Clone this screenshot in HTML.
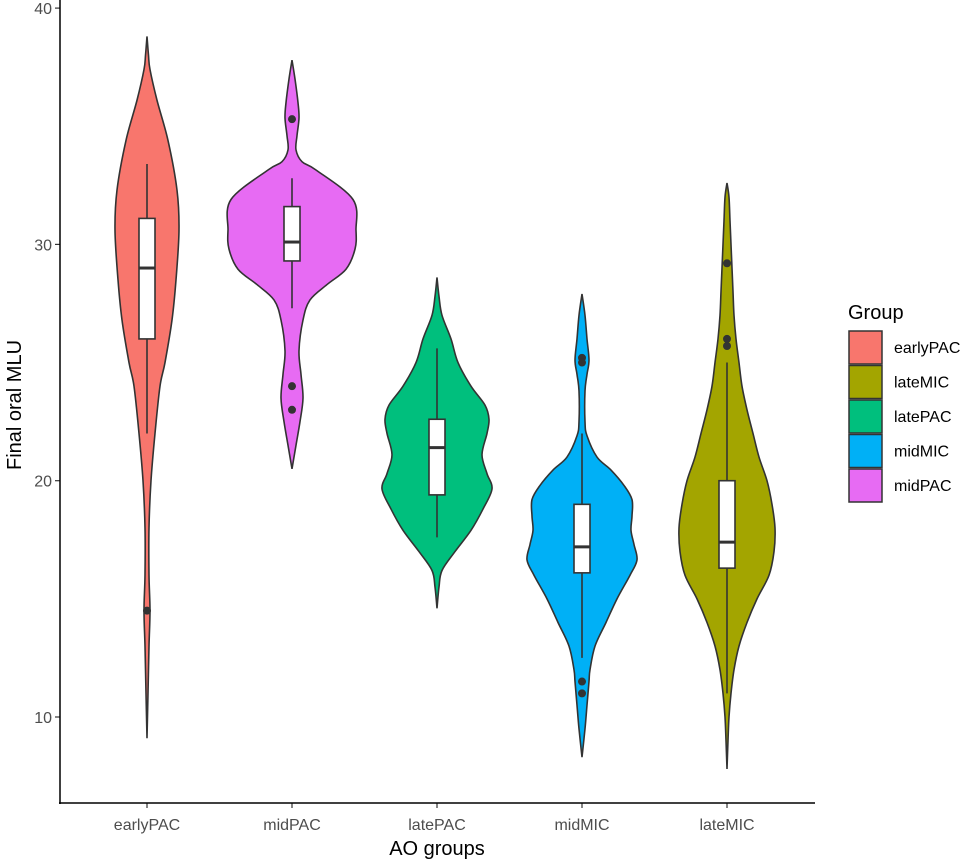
<!DOCTYPE html>
<html><head><meta charset="utf-8"><style>
body{margin:0;background:#fff;}
svg{display:block;font-family:"Liberation Sans",Arial,sans-serif;}
</style></head><body>
<svg id="chart" width="971" height="861">
<g id="plot"></g>
<g id="axes"></g>
<g id="legend"></g>
</svg>
<script>
const categories=["earlyPAC","midPAC","latePAC","midMIC","lateMIC"];
const colors=["#F8766D","#E76BF3","#00BF7D","#00B0F6","#A3A500"];
const legendGroups=["earlyPAC","lateMIC","latePAC","midMIC","midPAC"];
const legendColors=["#F8766D","#A3A500","#00BF7D","#00B0F6","#E76BF3"];
const yTicks=[10,20,30,40];
// density profiles: [value, halfwidth-in-px]
const densEarlyPAC=[[38.8,0],[38,1.5],[37.4,3],[36.1,10],[34.4,21],[32.3,30],[30.6,32],[28.5,29],[26.8,25],[25,18],[24,13],[22,8],[20,4],[18,2],[16,2],[14.5,3],[13,2],[11,1],[9.1,0]];
const densMidPAC=[[37.8,0],[37,3],[36,6],[35.35,7],[34.6,5],[34,4],[33.5,10],[33.15,24],[31.9,61],[30.6,64],[29.8,63],[28.95,54],[28.3,35],[27.65,18],[26.8,11],[25.5,7],[24.5,9],[23.5,11],[22.5,8],[21.5,4],[20.5,0]];
const densLatePAC=[[28.6,0],[27.8,2],[27,5],[26,14],[25,21],[24,34],[23.2,48],[22.6,52],[22,50],[21.1,45],[20.3,50],[19.65,55],[18.8,46],[17.9,34],[17,18],[16.2,5],[15.5,2],[14.6,0]];
const densMidMIC=[[27.9,0],[27,3],[26,5],[25.1,7],[24.5,5],[23.8,3],[22.5,3],[21.9,5],[21,15],[20.45,29],[19.8,42],[19.2,50],[18.5,50],[17.9,49],[17.3,52],[16.65,55],[16,48],[15,35],[14,24],[13,13],[12,8],[11.5,7],[10.5,5],[9.5,3],[8.3,0]];
const densLateMIC=[[32.6,0],[32,2],[31,3],[30,4],[29,5],[28,6],[27,7],[26,9],[25,12],[24,15],[23,20],[22,26],[21,32],[20,40],[19,45],[18,48],[17,47],[16,42],[15,30],[14,20],[13,12],[12,7],[11,4],[10,2],[9,1],[7.8,0]];
const densities=[densEarlyPAC,densMidPAC,densLatePAC,densMidMIC,densLateMIC];
// box stats: [lowWhisker,q1,median,q3,highWhisker]
const boxEarlyPAC=[22,26,29,31.1,33.4];
const boxMidPAC=[27.3,29.3,30.1,31.6,32.8];
const boxLatePAC=[17.6,19.4,21.4,22.6,25.6];
const boxMidMIC=[12.5,16.1,17.2,19.0,22];
const boxLateMIC=[11,16.3,17.4,20.0,25];
const boxes=[boxEarlyPAC,boxMidPAC,boxLatePAC,boxMidMIC,boxLateMIC];
const outEarlyPAC=[14.5];
const outMidPAC=[35.3,24.0,23.0];
const outLatePAC=[];
const outMidMIC=[25.2,25.0,11.5,11.0];
const outLateMIC=[29.2,26.0,25.7];
const outliers=[outEarlyPAC,outMidPAC,outLatePAC,outMidMIC,outLateMIC];

const NS="http://www.w3.org/2000/svg";
function y(v){return 717-(v-10)*23.63;}
function x(i){return 147+i*145;}
function mk(t,a,p){const e=document.createElementNS(NS,t);for(const k in a)e.setAttribute(k,a[k]);p.appendChild(e);return e;}
function smooth(pts){let d="M"+pts[0][0]+","+pts[0][1];for(let i=0;i<pts.length-1;i++){const p0=pts[i-1]||pts[i],p1=pts[i],p2=pts[i+1],p3=pts[i+2]||p2;const c1=[p1[0]+(p2[0]-p0[0])/6,p1[1]+(p2[1]-p0[1])/6],c2=[p2[0]-(p3[0]-p1[0])/6,p2[1]-(p3[1]-p1[1])/6];d+=" C"+c1+" "+c2+" "+p2;}return d;}
const plot=document.getElementById("plot"),axes=document.getElementById("axes"),leg=document.getElementById("legend");
categories.forEach((c,i)=>{
  const cx=x(i),dn=densities[i];
  const right=dn.map(p=>[cx+p[1],y(p[0])]);
  const left=dn.slice().reverse().map(p=>[cx-p[1],y(p[0])]);
  const d=smooth(right)+" L"+smooth(left).slice(1)+" Z";
  const v=mk("path",{d:d,fill:colors[i],stroke:"#333","stroke-width":1.6},plot);
  
  
  const b=boxes[i];
  const w=mk("line",{x1:cx,x2:cx,y1:y(b[0]),y2:y(b[4]),stroke:"#333","stroke-width":1.6},plot);
  
  
  const r=mk("rect",{x:cx-8,width:16,y:y(b[3]),height:y(b[1])-y(b[3]),fill:"#fff",stroke:"#333","stroke-width":1.6},plot);
  
  
  const m=mk("line",{x1:cx-8,x2:cx+8,y1:y(b[2]),y2:y(b[2]),stroke:"#333","stroke-width":3},plot);
  
  
  outliers[i].forEach(o=>{
    const p=mk("circle",{cx:cx,cy:y(o),r:4,fill:"#333"},plot);
    
    
  });
  const t=mk("text",{x:cx,y:830,"text-anchor":"middle","font-size":16,fill:"#4d4d4d"},axes);t.textContent=c;
  
  
  mk("line",{x1:cx,x2:cx,y1:803,y2:808,stroke:"#333","stroke-width":1.2},axes);
});
yTicks.forEach(v=>{
  const t=mk("text",{x:52,y:y(v)+6,"text-anchor":"end","font-size":16,fill:"#4d4d4d"},axes);t.textContent=v;
  
  
  mk("line",{x1:55,x2:60,y1:y(v),y2:y(v),stroke:"#333","stroke-width":1.2},axes);
});
const ya=mk("line",{x1:60,x2:60,y1:0,y2:804,stroke:"#000","stroke-width":1.5},axes);


const xa=mk("line",{x1:59,x2:815,y1:803,y2:803,stroke:"#000","stroke-width":1.5},axes);


const xt=mk("text",{x:437,y:855,"text-anchor":"middle","font-size":20,fill:"#000"},axes);xt.textContent="AO groups";


const yt=mk("text",{x:0,y:0,"text-anchor":"middle","font-size":20,fill:"#000",transform:"translate(21,405) rotate(-90)"},axes);yt.textContent="Final oral MLU";


const lt=mk("text",{x:848,y:319,"font-size":20,fill:"#000"},leg);lt.textContent="Group";


legendGroups.forEach((g,k)=>{
  const yy=331+k*34.5;
  const s=mk("rect",{x:849,y:yy,width:33,height:33,fill:legendColors[k],stroke:"#333","stroke-width":1.5},leg);
  
  
  const t=mk("text",{x:894,y:yy+22,"font-size":16,fill:"#000"},leg);t.textContent=g;
  
  
});
</script>
</body></html>
